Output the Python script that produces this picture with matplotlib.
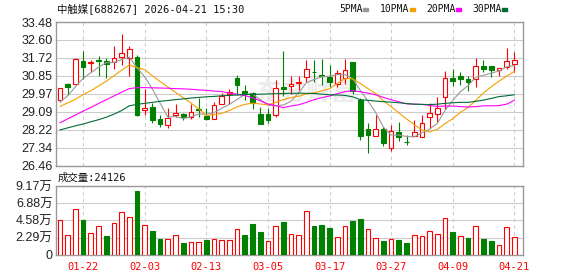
import matplotlib
matplotlib.use("Agg")
import matplotlib.pyplot as plt
from matplotlib.patches import Rectangle
import numpy as np

# ---- data (688267, 2026-01-19 .. 2026-04-21) ----
opens = [29.66, 30.43, 30.46, 31.58, 31.48, 31.60, 31.55, 31.53, 31.77, 31.73,
         31.79, 29.17, 29.30, 28.72, 28.44, 28.93, 28.96, 28.82, 29.22, 28.90,
         28.74, 29.48, 29.97, 30.72, 30.10, 29.99, 29.00, 29.00, 28.93, 30.30,
         30.34, 30.49, 30.77, 31.04, 30.91, 30.80, 30.43, 30.72, 31.53, 29.66,
         28.23, 27.92, 28.23, 27.34, 28.12, 27.63, 27.90, 27.83, 28.83, 29.00,
         29.81, 30.72, 30.85, 30.67, 30.67, 31.34, 31.34, 31.11, 31.27, 31.43]
closes = [30.23, 30.30, 31.69, 31.27, 31.53, 31.55, 31.43, 31.73, 31.94, 32.16,
          28.93, 29.26, 28.69, 28.51, 28.77, 29.01, 28.82, 29.09, 29.19, 28.74,
          29.42, 29.87, 30.04, 30.39, 29.97, 29.53, 28.48, 28.69, 30.23, 30.18,
          30.43, 30.56, 31.16, 31.01, 30.85, 30.56, 30.99, 31.11, 30.10, 27.90,
          27.93, 28.23, 27.55, 28.15, 27.87, 27.60, 28.12, 28.56, 29.04, 29.29,
          30.72, 30.59, 30.69, 30.56, 31.34, 31.17, 31.15, 31.21, 31.58, 31.60]
highs = [30.26, 30.52, 31.70, 32.08, 31.61, 31.82, 31.74, 32.31, 32.91, 32.31,
         31.86, 30.20, 29.50, 28.93, 29.26, 29.45, 29.01, 29.45, 29.74, 29.26,
         29.58, 29.99, 30.20, 30.91, 30.39, 30.04, 29.32, 29.29, 30.62, 32.05,
         30.85, 30.85, 31.64, 31.61, 31.69, 31.40, 31.12, 31.69, 31.53, 29.74,
         28.52, 28.93, 28.36, 28.44, 28.61, 27.96, 28.69, 28.93, 29.50, 29.79,
         31.08, 31.17, 31.01, 30.85, 31.73, 31.60, 31.34, 31.21, 32.21, 32.02]
lows = [29.58, 29.90, 30.45, 30.68, 31.01, 30.85, 30.75, 31.20, 31.37, 30.85,
        28.90, 28.93, 28.56, 28.36, 28.31, 28.85, 28.69, 28.74, 28.83, 28.69,
        28.74, 29.45, 29.45, 29.90, 29.66, 29.22, 28.48, 28.56, 28.82, 29.87,
        29.97, 30.15, 30.56, 30.56, 30.39, 30.31, 30.31, 30.43, 29.94, 27.71,
        27.06, 27.90, 27.39, 27.18, 27.66, 27.47, 27.90, 27.83, 28.28, 28.57,
        29.22, 30.36, 30.39, 30.10, 30.31, 31.01, 30.80, 30.85, 31.17, 31.04]
# volume in 万 shares
volumes = [4.58, 2.58, 6.05, 4.63, 2.89, 3.78, 2.49, 4.23, 5.65, 4.99,
           8.50, 3.92, 3.16, 2.09, 2.05, 2.58, 1.60, 1.69, 1.69, 1.96,
           2.05, 1.91, 1.91, 3.38, 2.63, 4.09, 3.03, 1.82, 3.78, 4.36,
           2.76, 2.63, 5.79, 3.83, 3.96, 3.56, 2.31, 3.78, 4.50, 4.76,
           3.38, 2.18, 1.82, 2.05, 1.96, 1.56, 2.58, 2.45, 3.12, 2.72,
           4.85, 3.03, 2.45, 2.23, 3.78, 2.09, 1.82, 1.25, 3.65, 2.4126]
ma5 = [29.58, 29.87, 30.31, 30.72, 31.00, 31.27, 31.49, 31.50, 31.64, 31.76,
       31.24, 30.80, 30.20, 29.51, 28.83, 28.85, 28.76, 28.84, 28.98, 28.97,
       29.05, 29.26, 29.45, 29.69, 29.94, 29.96, 29.68, 29.41, 29.38, 29.42,
       29.60, 30.02, 30.51, 30.67, 30.80, 30.83, 30.91, 30.90, 30.72, 30.13,
       29.61, 29.05, 28.34, 27.95, 27.95, 27.88, 27.86, 28.06, 28.24, 28.52,
       29.15, 29.64, 30.07, 30.37, 30.78, 30.87, 30.98, 31.08, 31.29, 31.34]
ma10 = [29.35, 29.52, 29.70, 29.92, 30.12, 30.35, 30.58, 30.85, 31.12, 31.38,
        31.25, 31.15, 30.85, 30.57, 30.30, 30.04, 29.78, 29.52, 29.24, 28.90,
        28.95, 29.01, 29.15, 29.33, 29.45, 29.51, 29.47, 29.43, 29.54, 29.68,
        29.78, 29.85, 29.96, 30.02, 30.11, 30.21, 30.47, 30.71, 30.70, 30.47,
        30.22, 29.98, 29.62, 29.34, 29.04, 28.74, 28.46, 28.20, 28.10, 28.23,
        28.51, 28.75, 29.06, 29.30, 29.65, 30.01, 30.31, 30.58, 30.83, 31.06]
ma20 = [28.55, 28.74, 28.93, 29.12, 29.30, 29.49, 29.68, 29.86, 30.05, 30.22,
        30.27, 30.27, 30.26, 30.25, 30.24, 30.22, 30.21, 30.19, 30.16, 30.14,
        30.10, 30.08, 30.00, 29.95, 29.88, 29.77, 29.63, 29.47, 29.39, 29.29,
        29.37, 29.43, 29.55, 29.68, 29.78, 29.86, 29.97, 30.07, 30.12, 30.07,
        30.00, 29.92, 29.79, 29.68, 29.58, 29.48, 29.46, 29.45, 29.40, 29.35,
        29.37, 29.37, 29.34, 29.32, 29.34, 29.38, 29.38, 29.39, 29.46, 29.65]
ma30 = [28.20, 28.30, 28.40, 28.49, 28.60, 28.70, 28.82, 28.97, 29.15, 29.38,
        29.45, 29.50, 29.55, 29.60, 29.64, 29.68, 29.72, 29.76, 29.79, 29.82,
        29.84, 29.87, 29.89, 29.91, 29.93, 29.94, 29.95, 29.96, 29.97, 29.99,
        29.99, 30.00, 29.99, 29.98, 29.95, 29.92, 29.91, 29.89, 29.82, 29.68,
        29.65, 29.61, 29.58, 29.56, 29.53, 29.49, 29.46, 29.45, 29.44, 29.46,
        29.50, 29.53, 29.55, 29.55, 29.60, 29.66, 29.74, 29.83, 29.87, 29.92]

date_ticks = [3, 11, 19, 27, 35, 43, 51, 59]
date_labels = ["01-22", "02-03", "02-13", "03-05", "03-17", "03-27", "04-09", "04-21"]
price_ticks = [26.46, 27.34, 28.22, 29.09, 29.97, 30.85, 31.72, 32.60, 33.48]
vol_ticks = [0, 2.29, 4.58, 6.88, 9.17]
vol_labels = ["0", "2.29万", "4.58万", "6.88万", "9.17万"]
ma_names = ["5PMA", "10PMA", "20PMA", "30PMA"]
ma_colors = ["#999999", "#f5a000", "#ff00ff", "#006c35"]

RED, GREEN = "#ff0000", "#008000"
W, H = 578, 276
mono = ["DejaVu Sans Mono", "Noto Sans CJK SC"]
sans = ["Liberation Sans", "Noto Sans CJK SC"]

fig = plt.figure(figsize=(W / 100, H / 100), dpi=100)


def rect(l, t, r, b):
    return [l / W, 1 - b / H, (r - l) / W, (b - t) / H]


ax = fig.add_axes(rect(56, 22, 523, 165.5))
axv = fig.add_axes(rect(56, 186, 523, 254.7))

x = np.arange(len(closes))
o = np.array(opens)
c = np.array(closes)
hi = np.array(highs)
lo = np.array(lows)
up = c >= o
bw = 0.62

# price panel: wicks, bodies, moving averages
ax.vlines(x[up], lo[up], hi[up], color=RED, lw=0.8, zorder=3)
ax.vlines(x[~up], lo[~up], hi[~up], color=GREEN, lw=0.8, zorder=3)
body_lo = np.minimum(o, c)
body_h = np.abs(c - o)
ax.bar(x[up], body_h[up], bw, bottom=body_lo[up], facecolor="white", edgecolor=RED, lw=0.8, zorder=4)
ax.bar(x[~up], body_h[~up], bw, bottom=body_lo[~up], facecolor=GREEN, edgecolor=GREEN, lw=0.8, zorder=4)

for vals, col in zip([ma5, ma10, ma20, ma30], ma_colors):
    ax.plot(x, vals, color=col, lw=0.8, zorder=5)

# faint watermark
ax.text(32, 30.0, "东方财富", fontsize=18, color="#ececec", family=["Noto Sans CJK SC"],
        fontweight="bold", ha="center", va="center", zorder=1)

# volume panel (colour by change vs previous close)
prev = np.concatenate([[o[0]], c[:-1]])
vup = c >= prev
v = np.array(volumes)
axv.bar(x[vup], v[vup], bw, facecolor="white", edgecolor=RED, lw=0.8, zorder=3)
axv.bar(x[~vup], v[~vup], bw, facecolor=GREEN, edgecolor=GREEN, lw=0.8, zorder=3)

for a in (ax, axv):
    a.set_xlim(-0.52, 60.13)
    a.set_xticks(date_ticks)
    a.grid(axis="x", color="#cccccc", ls=(0, (3, 3)), lw=0.8)
    a.grid(axis="y", color="#cccccc", ls="-", lw=0.8)
    a.set_axisbelow(True)
    for s in a.spines.values():
        s.set_color("#999999")
        s.set_linewidth(1.0)
    a.tick_params(length=0, pad=2.5, labelsize=9, colors="#222222")

ax.set_ylim(price_ticks[0], price_ticks[-1])
ax.set_yticks(price_ticks)
ax.set_yticklabels(["%.2f" % p for p in price_ticks], family=sans)
ax.set_xticklabels([])

axv.set_ylim(0, vol_ticks[-1])
axv.set_yticks(vol_ticks)
axv.set_yticklabels(vol_labels, family=sans)
axv.set_xticklabels(date_labels, family=mono, fontsize=7.5, color=RED)
axv.tick_params(axis="x", pad=5)

# header texts
fig.text(57 / W, 1 - 8.5 / H, "中触媒[688267] 2026-04-21 15:30", family=mono, fontsize=7.5,
         color="#111111", va="center", ha="left")
fig.text(58 / W, 1 - 177.5 / H, "成交量:24126", family=mono, fontsize=7.5,
         color="#111111", va="center", ha="left")

leg_x = [339, 380, 426, 472]
for lx, name, col in zip(leg_x, ma_names, ma_colors):
    fig.text(lx / W, 1 - 8.5 / H, name, family=mono, fontsize=7, color="#111111",
             va="center", ha="left")
    sq_x = lx + 6 * len(name)
    fig.patches.append(Rectangle((sq_x / W, 1 - 11 / H), 5 / W, 3 / H,
                                 transform=fig.transFigure, color=col))

fig.savefig("out.png", dpi=100)
